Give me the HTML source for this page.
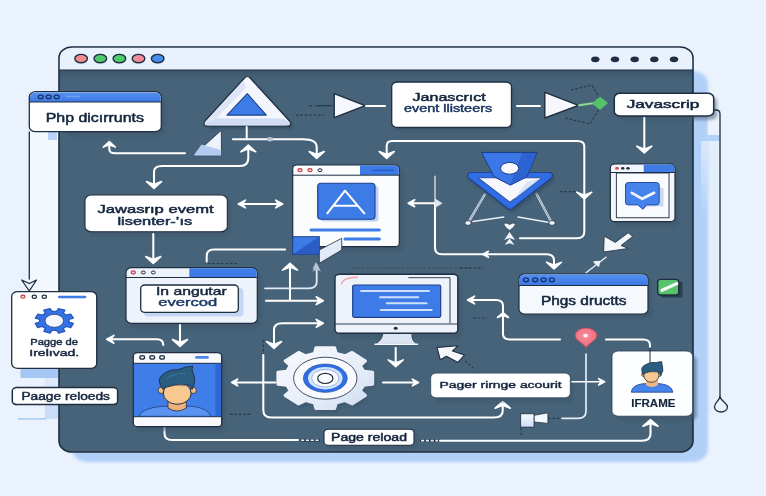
<!DOCTYPE html>
<html><head><meta charset="utf-8"><title>diagram</title>
<style>html,body{margin:0;padding:0;background:#e9f2fd;overflow:hidden}svg{display:block;filter:blur(.6px)}text{font-family:"Liberation Sans",sans-serif}</style></head>
<body><svg width="766" height="496" viewBox="0 0 766 496">
<defs><filter id="b1" x="-20%" y="-20%" width="140%" height="140%"><feGaussianBlur stdDeviation="1.6"/></filter>
<linearGradient id="gg" x1="0" y1="0" x2="1" y2="1"><stop offset="0" stop-color="#f7f9fe"/><stop offset=".55" stop-color="#e9eef9"/><stop offset="1" stop-color="#cfdcf2"/></linearGradient>
<linearGradient id="fg" x1="0" y1="0" x2="0" y2="1"><stop offset="0" stop-color="#fbfcff"/><stop offset="1" stop-color="#cddcf3"/></linearGradient>
<radialGradient id="pg" cx=".45" cy=".4" r=".7"><stop offset="0" stop-color="#f88f9c"/><stop offset="1" stop-color="#ee6477"/></radialGradient>
<linearGradient id="sg" x1="0" y1="0" x2="0" y2="1"><stop offset="0" stop-color="#dbe8fb"/><stop offset="1" stop-color="#dbe8fb" stop-opacity="0"/></linearGradient>
<filter id="b3" x="-5%" y="-5%" width="110%" height="110%"><feGaussianBlur stdDeviation="1.5"/></filter>
<linearGradient id="tb" x1="0" y1="0" x2="0" y2="1"><stop offset="0" stop-color="#5590f0"/><stop offset="1" stop-color="#3b78e4"/></linearGradient>
<linearGradient id="ts" x1="0" y1="0" x2="0" y2="1"><stop offset="0" stop-color="#33495e" stop-opacity=".55"/><stop offset="1" stop-color="#33495e" stop-opacity="0"/></linearGradient>
<filter id="b2" x="-5%" y="-5%" width="110%" height="110%"><feGaussianBlur stdDeviation="1.2"/></filter></defs>
<rect width="766" height="496" fill="#e9f2fd"/>
<rect x="29" y="132" width="30" height="160" fill="#f3f8fe"/>
<rect x="707" y="112" width="13" height="300" fill="#e4effc"/>
<rect x="72" y="71" width="636" height="391" rx="16" ry="13" fill="#b1d0f8" filter="url(#b3)"/>
<rect x="701" y="141" width="7.5" height="75" fill="url(#sg)"/>
<rect x="708" y="116" width="11.3" height="19" fill="#eaf2fd"/>
<rect x="706" y="135" width="13.3" height="6" fill="#b3d2f8"/>
<rect x="59" y="47" width="634" height="405" rx="13" ry="11" fill="#466379" stroke="#1f2e40" stroke-width="1.6"/>
<path d="M59.8,70 V58 A12.2,10.2 0 0 1 72,47.8 H680 A12.2,10.2 0 0 1 692.2,58 V70 Z" fill="#e9f1fc"/>
<rect x="60" y="70" width="632" height="9" fill="url(#ts)"/>
<path d="M59,70 H693" stroke="#1f2e40" stroke-width="1.2"/>
<ellipse cx="81.1" cy="58.6" rx="6.3" ry="4.2" fill="#f08c8c" stroke="#1f2e40" stroke-width="1.4"/>
<ellipse cx="100.3" cy="58.6" rx="6.3" ry="4.2" fill="#4fcb6b" stroke="#1f2e40" stroke-width="1.4"/>
<ellipse cx="119.4" cy="58.6" rx="6.3" ry="4.2" fill="#4fcb6b" stroke="#1f2e40" stroke-width="1.4"/>
<ellipse cx="138.5" cy="58.6" rx="6.3" ry="4.2" fill="#f08c9a" stroke="#1f2e40" stroke-width="1.4"/>
<ellipse cx="157.7" cy="58.6" rx="6.3" ry="4.2" fill="#478bee" stroke="#1f2e40" stroke-width="1.4"/>
<ellipse cx="595.3" cy="59.3" rx="4.2" ry="2.9" fill="#1f2e40" stroke="none" stroke-width="1"/>
<ellipse cx="615" cy="59.3" rx="4.2" ry="2.9" fill="#1f2e40" stroke="none" stroke-width="1"/>
<ellipse cx="634.7" cy="59.3" rx="4.2" ry="2.9" fill="#1f2e40" stroke="none" stroke-width="1"/>
<ellipse cx="654.3" cy="59.3" rx="4.2" ry="2.9" fill="#1f2e40" stroke="none" stroke-width="1"/>
<ellipse cx="674" cy="59.3" rx="4.2" ry="2.9" fill="#1f2e40" stroke="none" stroke-width="1"/>
<rect x="66" y="98" width="99" height="38" rx="6" ry="5" fill="#3c5268" opacity=".55" filter="url(#b1)"/>
<rect x="48" y="131" width="9" height="9" fill="#b9d3f7"/>
<rect x="29.3" y="91.7" width="132.0" height="40.0" rx="6.5" ry="5" fill="#ffffff" stroke="#1f2e40" stroke-width="1.3" />
<path d="M30,102 V97 A6,4.6 0 0 1 36,92.4 H154.6 A6,4.6 0 0 1 160.6,97 V102 Z" fill="url(#tb)"/>
<path d="M29.3,102 H161.3" stroke="#1f2e40" stroke-width="1"/>
<ellipse cx="40.7" cy="96.9" rx="2.5" ry="1.8" fill="#4f86e6" stroke="#16306e" stroke-width="1.3"/>
<ellipse cx="48.7" cy="96.9" rx="2.5" ry="1.8" fill="#4f86e6" stroke="#16306e" stroke-width="1.3"/>
<ellipse cx="56.7" cy="96.9" rx="2.5" ry="1.8" fill="#4f86e6" stroke="#16306e" stroke-width="1.3"/>
<path d="M66,96.5 H80" stroke="#6fa0f2" stroke-width="1.6"/>
<text x="45.7" y="121.5" font-size="12.5" font-weight="400" fill="#14253d" stroke="#14253d" stroke-width="0.5" stroke-linejoin="round" textLength="98.3" lengthAdjust="spacingAndGlyphs">Php dicırrunts</text>
<path d="M244.5,78 Q247.3,75 250.1,78 L289.5,121 Q292.5,126 287,126 L207.5,126 Q202,126 205,121 Z" transform="translate(2.5,2.5)" fill="#2f465c" opacity=".7" filter="url(#b1)"/>
<path d="M244.5,78 Q247.3,75 250.1,78 L289.5,121 Q292.5,126 287,126 L207.5,126 Q202,126 205,121 Z" fill="#f3f6fc" stroke="#1f2e40" stroke-width="1.2" stroke-linejoin="round"/>
<path d="M206,121.5 Q204,125.2 208,125.2 L286.5,125.2 Q290.5,125.2 288.7,121.8 L283,118.5 L212,118.5 Z" fill="#cfdcf4"/>
<path d="M243.5,80.5 L206,121.5 L213,121.5 L246,88 Z" fill="#dbe5f6"/>
<path d="M247.3,93.7 L266.3,115.1 L227,115.1 Z" fill="#3d7be6" stroke="#1d3f8c" stroke-width="1.1" stroke-linejoin="round"/>
<path d="M221.3,130.3 L221.5,155.7 L193.1,155.7 Z" fill="#eef2fa" stroke="#1f2e40" stroke-width=".8" stroke-linejoin="round"/>
<path d="M193.6,155.4 L221.2,155.4 L221.2,150 L201.5,144.5 Z" fill="#b3cbf1"/>
<path d="M334.2,93.6 L365.2,105.6 L334.2,117.6 Z" fill="#f6f8fd" stroke="#1f2e40" stroke-width="1.4" stroke-linejoin="round"/>
<path d="M316,105.7 H332" fill="none" stroke="#1f2e40" stroke-width="1.1" stroke-linecap="round" stroke-linejoin="round" />
<path d="M309,105.7 H314" fill="none" stroke="#1f2e40" stroke-width="1.2" stroke-dasharray="2.6 1.8" opacity=".75"/>
<path d="M296,115.2 H324" fill="none" stroke="#1f2e40" stroke-width="1.2" stroke-dasharray="2.6 1.8" opacity=".75"/>
<path d="M366,106 H385" fill="none" stroke="#ffffff" stroke-width="2" stroke-linecap="round" stroke-linejoin="round" />
<rect x="394" y="86" width="120" height="45" rx="6" ry="5" fill="#3c5268" opacity=".5" filter="url(#b1)"/>
<rect x="391.7" y="82" width="119.8" height="45.5" rx="5.9" ry="4.5" fill="#ffffff" stroke="#1f2e40" stroke-width="1.3" />
<text x="412.5" y="100.6" font-size="11.5" font-weight="400" fill="#14253d" stroke="#14253d" stroke-width="0.5" stroke-linejoin="round" textLength="73.3" lengthAdjust="spacingAndGlyphs">Janascrıct</text>
<text x="404" y="111.8" font-size="10.2" font-weight="400" fill="#16305f" stroke="#16305f" stroke-width="0.42" stroke-linejoin="round" textLength="88.2" lengthAdjust="spacingAndGlyphs">event llisteers</text>
<path d="M517,106 H540" fill="none" stroke="#ffffff" stroke-width="2" stroke-linecap="round" stroke-linejoin="round" />
<path d="M571,90 L592,85 L601,101" fill="none" stroke="#1f2e40" stroke-width="1.2" stroke-dasharray="2.6 1.8" opacity=".75"/>
<path d="M601,106 L590,124 L565,118" fill="none" stroke="#1f2e40" stroke-width="1.2" stroke-dasharray="2.6 1.8" opacity=".75"/>
<path d="M544.8,92.3 L578.5,105.3 L544.8,118 Z" fill="#f6f8fd" stroke="#1f2e40" stroke-width="1.4" stroke-linejoin="round"/>
<path d="M579,105.3 L598,102.5" fill="none" stroke="#8fd795" stroke-width="2" stroke-linecap="round" stroke-linejoin="round" />
<path d="M600,96.5 L608,103 L600,110 L592,103.5 Z" fill="#55c268"/>
<rect x="617" y="97" width="100" height="23" rx="6" ry="5" fill="#3c5268" opacity=".5" filter="url(#b1)"/>
<rect x="614.3" y="93.3" width="99.4" height="22.7" rx="5.9" ry="4.5" fill="#ffffff" stroke="#1f2e40" stroke-width="1.5" />
<text x="626.7" y="108.3" font-size="11" font-weight="400" fill="#14253d" stroke="#14253d" stroke-width="0.5" stroke-linejoin="round" textLength="72.6" lengthAdjust="spacingAndGlyphs">Javascrip</text>
<path d="M713.7,110 H716 Q720,110 720,114 V405" fill="none" stroke="#1f2e40" stroke-width="1.3" stroke-linecap="round" stroke-linejoin="round" />
<path d="M720,397 C 718,402 714.5,403 714.5,407 A6.5,5 0 0 0 727.5,407 C727.5,403 722,402 720,397 Z" fill="#e9f2fd" stroke="#1f2e40" stroke-width="1.3"/>
<path d="M644.3,118 V152" fill="none" stroke="#ffffff" stroke-width="2.05" stroke-linecap="round" stroke-linejoin="round" />
<polygon points="636.8,146.2 644.3,153.0 651.8,146.2 644.3,149.3" fill="#ffffff" stroke="#ffffff" stroke-width="1.6" stroke-linejoin="round"/>
<rect x="613" y="168" width="66" height="58" rx="5" ry="4" fill="#3c5268" opacity=".5" filter="url(#b1)"/>
<rect x="610.3" y="164" width="64.7" height="57.7" rx="5.2" ry="4" fill="#f2f5fc" stroke="#1f2e40" stroke-width="1.2" />
<path d="M643.7,164.6 H670 A4.4,3.4 0 0 1 674.4,168 V172.3 H643.7 Z" fill="#3d7be6"/>
<path d="M610.3,172.5 H675" stroke="#1f2e40" stroke-width="1"/>
<ellipse cx="617" cy="168.3" rx="1.9" ry="1.5" fill="#e5484d" stroke="none" stroke-width="1"/>
<ellipse cx="622.7" cy="168.3" rx="1.7" ry="1.4" fill="#1f2e40" stroke="none" stroke-width="1"/>
<ellipse cx="628" cy="168.3" rx="1.7" ry="1.4" fill="#1f2e40" stroke="none" stroke-width="1"/>
<rect x="616.4" y="173" width="52.6" height="44.7" fill="#fafcff" stroke="#1f2e40" stroke-width="1" opacity=".9"/>
<path d="M640,187.7 H663.5 V206.5 H640 Z" fill="#cbd8ef"/>
<path d="M628.5,182.5 H656.2 Q659.2,182.5 659.2,185 V202.5 Q659.2,204.9 656.2,204.9 H646.6 L643,209.3 L637.8,204.9 H628.5 Q625.5,204.9 625.5,202.5 V185 Q625.5,182.5 628.5,182.5 Z" fill="#4682ec" stroke="#244fa8" stroke-width="1"/>
<path d="M631.8,192.8 L642.3,198.8 L654.1,192.8" fill="none" stroke="#f2f6fe" stroke-width="2.7" stroke-linecap="round" stroke-linejoin="round" />
<path d="M628.2,232.8 L632.7,236.4 L621,245.5 L628.4,248.4 L603.7,252 L604.2,236.2 L615.4,242.4 Z" fill="#f4f7fc" stroke="#1f2e40" stroke-width=".8" stroke-linejoin="round"/>
<path d="M606,257.3 L586,272.7" fill="none" stroke="#e8eef8" stroke-width="1.4" stroke-linecap="round" stroke-linejoin="round" />
<path d="M594,262 L599.5,261.5 L598.5,266 Z" fill="#e8eef8" stroke="#e8eef8" stroke-width="1.6" stroke-linejoin="round"/>
<rect x="660.5" y="281.5" width="22" height="16" rx="2" fill="#1f2e40" opacity=".7"/>
<rect x="657.7" y="279.4" width="21" height="15.6" rx="3" ry="2.4" fill="#57c46d" stroke="#1f2e40" stroke-width="1.4"/>
<path d="M662,290.3 L676.8,283.6" fill="none" stroke="#f4f9f4" stroke-width="3.2" stroke-linecap="round" stroke-linejoin="round" />
<rect x="522" y="278" width="130" height="40" rx="6" ry="5" fill="#3c5268" opacity=".55" filter="url(#b1)"/>
<rect x="519" y="274" width="129.0" height="40.0" rx="5.9" ry="4.5" fill="#f5f8fd" stroke="#1f2e40" stroke-width="1.2" />
<path d="M519.7,285.3 V278.6 A5.2,4 0 0 1 525,274.6 H642 A5.2,4 0 0 1 647.3,278.6 V285.3 Z" fill="url(#tb)"/>
<path d="M519,285.5 H648" stroke="#1f2e40" stroke-width="1"/>
<ellipse cx="526" cy="279.8" rx="2.5" ry="1.9" fill="#4b86ea" stroke="#16306e" stroke-width="1.4"/>
<ellipse cx="535.2" cy="279.8" rx="2.5" ry="1.9" fill="#4b86ea" stroke="#16306e" stroke-width="1.4"/>
<ellipse cx="543.6" cy="279.8" rx="2.5" ry="1.9" fill="#4b86ea" stroke="#16306e" stroke-width="1.4"/>
<ellipse cx="551.9" cy="279.8" rx="2.5" ry="1.9" fill="#4b86ea" stroke="#16306e" stroke-width="1.4"/>
<text x="541" y="304.8" font-size="12" font-weight="400" fill="#14253d" stroke="#14253d" stroke-width="0.5" stroke-linejoin="round" textLength="85.5" lengthAdjust="spacingAndGlyphs">Phgs dructts</text>
<path d="M484.6,194.7 L468.1,222.9" fill="none" stroke="#e9eef7" stroke-width="2.2" stroke-linecap="round" stroke-linejoin="round" />
<path d="M484.6,194.7 L468.1,222.9" fill="none" stroke="#6b7f96" stroke-width="0.8" stroke-linecap="round" stroke-linejoin="round" />
<path d="M536.4,193.7 L551.9,222.9" fill="none" stroke="#e9eef7" stroke-width="2.2" stroke-linecap="round" stroke-linejoin="round" />
<path d="M536.4,193.7 L551.9,222.9" fill="none" stroke="#6b7f96" stroke-width="0.8" stroke-linecap="round" stroke-linejoin="round" />
<path d="M473,221.6 L503.7,216.9" fill="none" stroke="#e9eef7" stroke-width="1.5" stroke-linecap="round" stroke-linejoin="round" />
<path d="M548,222.2 L518,216.9" fill="none" stroke="#e9eef7" stroke-width="1.5" stroke-linecap="round" stroke-linejoin="round" />
<ellipse cx="468" cy="223" rx="3.2" ry="2.4" fill="#eef2f9" stroke="#1f2e40" stroke-width="0.8"/>
<ellipse cx="552" cy="223" rx="3.2" ry="2.4" fill="#eef2f9" stroke="#1f2e40" stroke-width="0.8"/>
<path d="M470.8,175.6 L549.2,175.6 L510,206 Z" transform="translate(2,3)" fill="#2f465c" stroke="#2f465c" stroke-width="7" stroke-linejoin="round" opacity=".6" filter="url(#b1)"/>
<path d="M470.8,175.6 L549.2,175.6 L510,206 Z" fill="#2f6adf" stroke="#1b3a85" stroke-width="7.4" stroke-linejoin="round"/>
<path d="M470.8,175.6 L549.2,175.6 L510,206 Z" fill="#2f6adf" stroke="#306ce2" stroke-width="5.6" stroke-linejoin="round"/>
<path d="M478.3,177.8 H541.3 L510,202.1 Z" fill="#f6f8fd" stroke="#1d3f8c" stroke-width=".8" stroke-linejoin="round"/>
<path d="M527,182 L541,178 L514,199 Z" fill="#d9e4f7"/>
<path d="M481.4,152.4 H537.1 L527,176.7 L510.4,185.2 L494.1,176.7 Z" fill="#3b77e6" stroke="#1b3a85" stroke-width="1" stroke-linejoin="round"/>
<path d="M522,152.9 H536.4 L526.6,176.4 L510.4,184.6 Z" fill="#2c62d2"/>
<ellipse cx="509.6" cy="168.3" rx="9.1" ry="5.9" fill="#f8fafe" stroke="#1b3a85" stroke-width="1"/>
<path d="M503.5,223.5 Q506.5,222 509.6,224.5 Q512.7,222 515.7,223.5 Q515,227 509.6,230.5 Q504,227 503.5,223.5 Z" fill="#f4f7fd" stroke="#1f2e40" stroke-width=".7"/>
<path d="M509.6,232 L515,240 L509.6,238 L504.2,240 Z M509.6,238.5 L514.5,245 L509.6,243.2 L504.7,245 Z" fill="#f4f7fd"/>
<path d="M386.7,157 V146 Q386.7,141 392,141 H577 Q584.3,141 584.3,146 V232 Q584.3,238.3 577,238.3 H520" fill="none" stroke="#ffffff" stroke-width="2.05" stroke-linecap="round" stroke-linejoin="round" />
<polygon points="379.2,151.6 386.7,158.3 394.2,151.6 386.7,154.6" fill="#ffffff" stroke="#ffffff" stroke-width="1.6" stroke-linejoin="round"/>
<polygon points="576.8,192.2 584.3,199.0 591.8,192.2 584.3,195.3" fill="#ffffff" stroke="#ffffff" stroke-width="1.6" stroke-linejoin="round"/>
<path d="M560,191.7 H577" fill="none" stroke="#1f2e40" stroke-width="1.2" stroke-dasharray="2.6 1.8" opacity=".75"/>
<path d="M435,176 V204" fill="none" stroke="#ffffff" stroke-width="1.1" stroke-linecap="round" stroke-linejoin="round" />
<path d="M435,204 V248 Q435,254.3 442,254.3 H546 Q554,254.3 554,260 V268" fill="none" stroke="#ffffff" stroke-width="2.05" stroke-linecap="round" stroke-linejoin="round" />
<polygon points="546.5,262.2 554.0,269.0 561.5,262.2 554.0,265.3" fill="#ffffff" stroke="#ffffff" stroke-width="1.6" stroke-linejoin="round"/>
<polygon points="488.4,251.3 482.8,254.3 488.4,257.3 485.9,254.3" fill="#ffffff" stroke="#ffffff" stroke-width="1.6" stroke-linejoin="round"/>
<path d="M435,203.2 H411" fill="none" stroke="#ffffff" stroke-width="2" stroke-linecap="round" stroke-linejoin="round" />
<polygon points="414.7,199.7 408.2,203.2 414.7,206.7 411.8,203.2" fill="#ffffff" stroke="#ffffff" stroke-width="1.6" stroke-linejoin="round"/>
<path d="M435,198.5 L442.5,203.2 L435,208 Z" fill="#dde5f0"/>
<path d="M246.7,127 V139.3" fill="none" stroke="#ffffff" stroke-width="2" stroke-linecap="round" stroke-linejoin="round" />
<path d="M233,139.3 H303 Q316.7,139.3 316.7,147 V157" fill="none" stroke="#ffffff" stroke-width="2.05" stroke-linecap="round" stroke-linejoin="round" />
<polygon points="309.2,151.6 316.7,158.3 324.2,151.6 316.7,154.6" fill="#ffffff" stroke="#ffffff" stroke-width="1.6" stroke-linejoin="round"/>
<ellipse cx="270" cy="139.3" rx="3" ry="2.2" fill="#b7c4d6" stroke="none" stroke-width="1"/>
<path d="M248.3,146.5 V158 Q248.3,166 240,166 H162 Q154,166 154,172 V187" fill="none" stroke="#ffffff" stroke-width="2.05" stroke-linecap="round" stroke-linejoin="round" />
<polygon points="240.8,151.8 248.3,145.0 255.8,151.8 248.3,148.7" fill="#ffffff" stroke="#ffffff" stroke-width="1.6" stroke-linejoin="round"/>
<polygon points="146.5,181.6 154.0,188.3 161.5,181.6 154.0,184.6" fill="#ffffff" stroke="#ffffff" stroke-width="1.6" stroke-linejoin="round"/>
<path d="M109.3,143 V149 Q109.3,153.3 115,153.3 H185" fill="none" stroke="#ffffff" stroke-width="2.05" stroke-linecap="round" stroke-linejoin="round" />
<polygon points="103.3,147.1 109.3,141.7 115.3,147.1 109.3,144.7" fill="#ffffff" stroke="#ffffff" stroke-width="1.6" stroke-linejoin="round"/>
<path d="M240,204 H281" fill="none" stroke="#ffffff" stroke-width="2.05" stroke-linecap="round" stroke-linejoin="round" />
<polygon points="245.5,200.1 238.3,204.0 245.5,207.9 242.2,204.0" fill="#ffffff" stroke="#ffffff" stroke-width="1.6" stroke-linejoin="round"/>
<polygon points="275.6,200.1 282.7,204.0 275.6,207.9 278.8,204.0" fill="#ffffff" stroke="#ffffff" stroke-width="1.6" stroke-linejoin="round"/>
<rect x="88" y="199" width="143" height="37" rx="7" ry="6" fill="#3c5268" opacity=".5" filter="url(#b1)"/>
<rect x="85" y="195" width="142.3" height="36.7" rx="6.5" ry="5" fill="#ffffff" stroke="#1f2e40" stroke-width="1.1" />
<text x="97.5" y="213.4" font-size="11.4" font-weight="400" fill="#14253d" stroke="#14253d" stroke-width="0.5" stroke-linejoin="round" textLength="116.1" lengthAdjust="spacingAndGlyphs">Jawasrıp evemt</text>
<text x="117.4" y="224.8" font-size="11.3" font-weight="400" fill="#172b4a" stroke="#172b4a" stroke-width="0.5" stroke-linejoin="round" textLength="74.9" lengthAdjust="spacingAndGlyphs">lisenter-ʼıs</text>
<path d="M153.3,234 V262" fill="none" stroke="#ffffff" stroke-width="2.05" stroke-linecap="round" stroke-linejoin="round" />
<polygon points="145.8,256.6 153.3,263.3 160.8,256.6 153.3,259.6" fill="#ffffff" stroke="#ffffff" stroke-width="1.6" stroke-linejoin="round"/>
<rect x="296" y="169" width="107" height="82" rx="5" ry="4" fill="#3c5268" opacity=".5" filter="url(#b1)"/>
<rect x="292.7" y="165" width="106.6" height="81.7" rx="4.5" ry="3.5" fill="#fbfcfe" stroke="#1f2e40" stroke-width="1.2" />
<path d="M360,165.6 H394.5 A4.2,3.2 0 0 1 398.7,168.8 V175 H360 Z" fill="#3d7be6"/>
<path d="M292.7,175.2 H399.3" stroke="#1f2e40" stroke-width="1"/>
<path d="M373.3,170.3 H393.3" fill="none" stroke="#2a5fcf" stroke-width="1.8" stroke-linecap="round" stroke-linejoin="round" />
<ellipse cx="300" cy="170.2" rx="2.1" ry="1.6" fill="#f4d2d6" stroke="#c8323f" stroke-width="1.1"/>
<ellipse cx="310" cy="170.2" rx="2.1" ry="1.6" fill="#f4d2d6" stroke="#c8323f" stroke-width="1.1"/>
<ellipse cx="320" cy="170.2" rx="2" ry="1.5" fill="#e8ecf3" stroke="#1f2e40" stroke-width="1"/>
<rect x="321" y="186" width="57.5" height="35.5" rx="3" fill="#bfd2f4"/>
<rect x="317.7" y="183.3" width="57.3" height="36" rx="3.5" ry="3" fill="#3d7be6" stroke="#1d3f8c" stroke-width="1.1"/>
<path d="M327.3,213.3 L345,190.7 L364.3,213.3 M333.8,205.7 H358" fill="none" stroke="#ffffff" stroke-width="2" stroke-linecap="round" stroke-linejoin="round" />
<path d="M311,230 H379.3" fill="none" stroke="#3d7be6" stroke-width="3" stroke-linecap="round" stroke-linejoin="round" />
<path d="M345,239 H379.3" fill="none" stroke="#3d7be6" stroke-width="3" stroke-linecap="round" stroke-linejoin="round" />
<rect x="292.7" y="236.7" width="26.6" height="17.6" fill="#3d7be6" stroke="#1d3f8c" stroke-width="1"/>
<path d="M292.7,254.3 L319.3,236.7 V254.3 Z" fill="#2a5cc4"/>
<path d="M319.3,250 L341.7,238.3 V250 L319.3,263.3 Z" fill="#e4ebf8" stroke="#1f2e40" stroke-width=".8" stroke-linejoin="round"/>
<path d="M316,262 L319.5,269 L316,267.5 L312.5,269 Z" fill="#b7c4d6"/>
<rect x="129" y="272" width="132" height="56" rx="6" ry="5" fill="#3c5268" opacity=".55" filter="url(#b1)"/>
<rect x="126" y="267.7" width="131.3" height="55.6" rx="5.9" ry="4.5" fill="#eef3fb" stroke="#1f2e40" stroke-width="1.2" />
<path d="M189.3,268.3 H252 A4.7,3.7 0 0 1 256.7,272 V277.3 H189.3 Z" fill="#3d7be6"/>
<path d="M126,277.5 H257.3" stroke="#1f2e40" stroke-width="1"/>
<ellipse cx="133.3" cy="272.5" rx="2.1" ry="1.6" fill="#f4d2d6" stroke="#c8323f" stroke-width="1.1"/>
<ellipse cx="143.3" cy="272.5" rx="2" ry="1.5" fill="#e8ecf3" stroke="#1f2e40" stroke-width="1"/>
<ellipse cx="153.3" cy="272.5" rx="2" ry="1.5" fill="#e8ecf3" stroke="#1f2e40" stroke-width="1"/>
<rect x="144" y="288" width="99.5" height="28.5" rx="4" fill="#c3d6f6"/>
<rect x="140.7" y="285" width="97.6" height="27.3" rx="4.2" ry="3.2" fill="#ffffff" stroke="#1f2e40" stroke-width="1.3" />
<text x="156" y="295.3" font-size="10.5" font-weight="400" fill="#14253d" stroke="#14253d" stroke-width="0.42" stroke-linejoin="round" textLength="70.7" lengthAdjust="spacingAndGlyphs">In angutar</text>
<text x="158.3" y="306.3" font-size="10.5" font-weight="400" fill="#1c3a66" stroke="#1c3a66" stroke-width="0.42" stroke-linejoin="round" textLength="59.0" lengthAdjust="spacingAndGlyphs">evercod</text>
<path d="M206.7,261.5 V256 Q206.7,249.5 214,249.5 H285" fill="none" stroke="#ffffff" stroke-width="2.05" stroke-linecap="round" stroke-linejoin="round" />
<path d="M208,263.5 H237" fill="none" stroke="#1f2e40" stroke-width="1.2" stroke-dasharray="2.6 1.8" opacity=".75"/>
<path d="M180,325 V345" fill="none" stroke="#ffffff" stroke-width="2.05" stroke-linecap="round" stroke-linejoin="round" />
<polygon points="172.5,339.6 180.0,346.3 187.5,339.6 180.0,342.6" fill="#ffffff" stroke="#ffffff" stroke-width="1.6" stroke-linejoin="round"/>
<path d="M108,339.3 H157 Q163.3,339.3 163.3,345" fill="none" stroke="#ffffff" stroke-width="2.05" stroke-linecap="round" stroke-linejoin="round" />
<polygon points="113.9,335.4 106.7,339.3 113.9,343.2 110.6,339.3" fill="#ffffff" stroke="#ffffff" stroke-width="1.6" stroke-linejoin="round"/>
<path d="M290,300 V265" fill="none" stroke="#ffffff" stroke-width="2.05" stroke-linecap="round" stroke-linejoin="round" />
<polygon points="282.5,270.1 290.0,263.3 297.5,270.1 290.0,267.0" fill="#ffffff" stroke="#ffffff" stroke-width="1.6" stroke-linejoin="round"/>
<path d="M265,288.3 H309 Q316.7,288.3 316.7,282 V270" fill="none" stroke="#e4eaf4" stroke-width="1.8" stroke-linecap="round" stroke-linejoin="round" />
<path d="M316.7,263.5 L321,271.5 L316.7,269.5 L312.4,271.5 Z" fill="#b7c4d6"/>
<path d="M266,300.7 H322" fill="none" stroke="#ffffff" stroke-width="2.05" stroke-linecap="round" stroke-linejoin="round" />
<polygon points="316.2,296.8 323.3,300.7 316.2,304.6 319.4,300.7" fill="#ffffff" stroke="#ffffff" stroke-width="1.6" stroke-linejoin="round"/>
<path d="M322,323.3 H282 Q274,323.3 274,330 V347" fill="none" stroke="#ffffff" stroke-width="2.05" stroke-linecap="round" stroke-linejoin="round" />
<polygon points="316.2,319.4 323.3,323.3 316.2,327.2 319.4,323.3" fill="#ffffff" stroke="#ffffff" stroke-width="1.6" stroke-linejoin="round"/>
<polygon points="266.5,341.6 274.0,348.3 281.5,341.6 274.0,344.6" fill="#ffffff" stroke="#ffffff" stroke-width="1.6" stroke-linejoin="round"/>
<rect x="340" y="278" width="122" height="60" rx="5" ry="4" fill="#3c5268" opacity=".5" filter="url(#b1)"/>
<path d="M383,333 Q382,341 374.5,344.3 H417.5 Q411,341 412,333 Z" fill="#dbe4f3" stroke="#1f2e40" stroke-width=".8" stroke-linejoin="round"/>
<path d="M375,344.2 H417.5" fill="none" stroke="#f4f7fc" stroke-width="1.6" stroke-linecap="round" stroke-linejoin="round" />
<rect x="335" y="274.2" width="122.8" height="59.0" rx="4.5" ry="3.5" fill="#eef3fb" stroke="#1f2e40" stroke-width="1.4" />
<path d="M335,324 H457.8" stroke="#2b3e52" stroke-width="1"/>
<path d="M353,268.2 H472" fill="none" stroke="#1f2e40" stroke-width="1.1" stroke-dasharray="2.6 1.8" opacity=".4"/>
<path d="M408.3,277.7 H450 V323.3" fill="none" stroke="#1f2e40" stroke-width=".9"/>
<path d="M341.5,284.5 Q342,277.5 358,277.3" fill="none" stroke="#f4a3ad" stroke-width="1.4"/>
<rect x="352.7" y="285" width="88" height="32.3" rx="1.5" fill="#3d7be6" stroke="#1d3f8c" stroke-width="1.2"/>
<path d="M361,291 H429" fill="none" stroke="#cfe0fc" stroke-width="1.9" stroke-linecap="round" stroke-linejoin="round" />
<path d="M380,297.3 H418.3" fill="none" stroke="#cfe0fc" stroke-width="1.9" stroke-linecap="round" stroke-linejoin="round" />
<path d="M386.7,303.3 H426.7" fill="none" stroke="#cfe0fc" stroke-width="1.9" stroke-linecap="round" stroke-linejoin="round" />
<path d="M380.7,310 H431.7" fill="none" stroke="#cfe0fc" stroke-width="1.9" stroke-linecap="round" stroke-linejoin="round" />
<ellipse cx="395.7" cy="328.3" rx="2" ry="1.5" fill="#1f2e40" stroke="none" stroke-width="1"/>
<path d="M395.7,348 V365" fill="none" stroke="#ffffff" stroke-width="2.05" stroke-linecap="round" stroke-linejoin="round" />
<polygon points="388.2,359.9 395.7,366.7 403.2,359.9 395.7,363.0" fill="#ffffff" stroke="#ffffff" stroke-width="1.6" stroke-linejoin="round"/>
<path d="M460,267.8 H483" fill="none" stroke="#1f2e40" stroke-width="1.2" stroke-dasharray="2.6 1.8" opacity=".75"/>
<path d="M473,318 H487" fill="none" stroke="#1f2e40" stroke-width="1.2" stroke-dasharray="2.6 1.8" opacity=".75"/>
<path d="M469,300 H496 Q503,300 503,306 V334 Q503,339.5 510,339.5 H560" fill="none" stroke="#ffffff" stroke-width="2.05" stroke-linecap="round" stroke-linejoin="round" />
<polygon points="474.6,296.1 467.5,300.0 474.6,303.9 471.4,300.0" fill="#ffffff" stroke="#ffffff" stroke-width="1.6" stroke-linejoin="round"/>
<polygon points="497.5,317.4 503.0,312.5 508.5,317.4 503.0,315.2" fill="#ffffff" stroke="#ffffff" stroke-width="1.6" stroke-linejoin="round"/>
<path d="M437,347.4 L458,345.8 L452.5,350.9 L464.4,355.1 L458,362.4 L446.5,356.2 L440.3,359.8 Z" fill="#f6f8fd" stroke="#1f2e40" stroke-width="1.1" stroke-linejoin="round"/>
<path d="M465,361 L473,368" fill="none" stroke="#1f2e40" stroke-width="1.2" stroke-dasharray="2.6 1.8" opacity=".75"/>
<path d="M314.4,353.4 L315.9,347.8 L334.7,347.8 L336.2,353.4 L344.9,355.8 L352.1,352.4 L365.5,361.0 L360.3,365.6 L363.9,371.2 L372.7,372.2 L372.7,384.2 L363.9,385.2 L360.3,390.8 L365.5,395.4 L352.1,404.0 L344.9,400.6 L336.2,403.0 L334.7,408.6 L315.9,408.6 L314.4,403.0 L305.7,400.6 L298.5,404.0 L285.1,395.4 L290.3,390.8 L286.7,385.2 L277.9,384.2 L277.9,372.2 L286.7,371.2 L290.3,365.6 L285.1,361.0 L298.5,352.4 L305.7,355.8 Z" transform="translate(3,4)" fill="#3a5268" opacity=".6" filter="url(#b1)"/>
<path d="M314.4,353.4 L315.9,347.8 L334.7,347.8 L336.2,353.4 L344.9,355.8 L352.1,352.4 L365.5,361.0 L360.3,365.6 L363.9,371.2 L372.7,372.2 L372.7,384.2 L363.9,385.2 L360.3,390.8 L365.5,395.4 L352.1,404.0 L344.9,400.6 L336.2,403.0 L334.7,408.6 L315.9,408.6 L314.4,403.0 L305.7,400.6 L298.5,404.0 L285.1,395.4 L290.3,390.8 L286.7,385.2 L277.9,384.2 L277.9,372.2 L286.7,371.2 L290.3,365.6 L285.1,361.0 L298.5,352.4 L305.7,355.8 Z" fill="url(#gg)" stroke="url(#gg)" stroke-width="3" stroke-linejoin="round"/>
<ellipse cx="325.3" cy="378.2" rx="31.7" ry="21" fill="#f8fafe" stroke="#2b3e52" stroke-width="0.9"/>
<ellipse cx="325.3" cy="378.2" rx="22" ry="14.2" fill="#2f6de2" stroke="#1d3f8c" stroke-width="0.5"/>
<ellipse cx="325.3" cy="378.2" rx="17.3" ry="11.2" fill="#d6e4fb" stroke="none" stroke-width="1"/>
<ellipse cx="325.3" cy="378.2" rx="13.6" ry="8.8" fill="#fbfcff" stroke="#5f8fe8" stroke-width="0.6"/>
<ellipse cx="325.3" cy="378.4" rx="7.6" ry="5.1" fill="#fbfcff" stroke="#1f2e40" stroke-width="1.2"/>
<path d="M233,382.4 H275.5" fill="none" stroke="#ffffff" stroke-width="2.05" stroke-linecap="round" stroke-linejoin="round" />
<polygon points="237.7,379.0 231.5,382.4 237.7,385.8 234.9,382.4" fill="#ffffff" stroke="#ffffff" stroke-width="1.6" stroke-linejoin="round"/>
<path d="M383,382.5 H416" fill="none" stroke="#ffffff" stroke-width="2.05" stroke-linecap="round" stroke-linejoin="round" />
<polygon points="412.3,379.1 418.5,382.5 412.3,385.9 415.1,382.5" fill="#ffffff" stroke="#ffffff" stroke-width="1.6" stroke-linejoin="round"/>
<path d="M263.3,355 V410 Q263.3,417.5 271,417.5 H494 Q502.7,417.5 502.7,411 V403" fill="none" stroke="#ffffff" stroke-width="2.05" stroke-linecap="round" stroke-linejoin="round" />
<polygon points="495.2,408.2 502.7,401.5 510.2,408.2 502.7,405.2" fill="#ffffff" stroke="#ffffff" stroke-width="1.6" stroke-linejoin="round"/>
<path d="M263.3,340 V354" fill="none" stroke="#1f2e40" stroke-width="1.2" stroke-dasharray="2.6 1.8" opacity=".75"/>
<rect x="435" y="377" width="138" height="25" rx="6" ry="5" fill="#3c5268" opacity=".55" filter="url(#b1)"/>
<rect x="430.7" y="373.1" width="139.6" height="24.7" rx="5.9" ry="4.5" fill="#ffffff" stroke="#31465c" stroke-width="0.8" />
<text x="439.6" y="388.4" font-size="9.6" font-weight="400" fill="#14253d" stroke="#14253d" stroke-width="0.42" stroke-linejoin="round" textLength="122.0" lengthAdjust="spacingAndGlyphs">Pager rirnge acourit</text>
<path d="M572,381.8 H601" fill="none" stroke="#ffffff" stroke-width="1.6" stroke-linecap="round" stroke-linejoin="round" />
<polygon points="598.6,378.6 604.6,381.8 598.6,385.0 601.3,381.8" fill="#ffffff" stroke="#ffffff" stroke-width="1.6" stroke-linejoin="round"/>
<path d="M606,339.5 H643 Q650,339.5 650,345 V347" fill="none" stroke="#ffffff" stroke-width="2.05" stroke-linecap="round" stroke-linejoin="round" />
<path d="M586,347.4 C 582,342 575.2,340.5 575.2,335.4 A10.8,7.4 0 0 1 596.8,335.4 C596.8,340.5 590,342 586,347.4 Z" fill="url(#pg)" stroke="#c04a5e" stroke-width=".8"/>
<ellipse cx="585.6" cy="335.6" rx="2.3" ry="1.9" fill="#fdf3f5" stroke="none" stroke-width="1"/>
<path d="M586,354 V411 Q586,418.3 578,418.3 H562" fill="none" stroke="#e6ecf5" stroke-width="1.7" stroke-linecap="round" stroke-linejoin="round" />
<path d="M548,418.3 H561" fill="none" stroke="#1f2e40" stroke-width="1.2" stroke-dasharray="2.6 1.8" opacity=".75"/>
<path d="M534,415.3 L547.9,412.8 V423.4 L534,422 Z" fill="#f4f7fc" stroke="#1f2e40" stroke-width=".8" stroke-linejoin="round"/>
<rect x="520.7" y="413.8" width="13.3" height="13.3" fill="url(#fg)" stroke="#1f2e40" stroke-width=".8"/>
<path d="M521,428 V436" fill="none" stroke="#1f2e40" stroke-width="1.2" stroke-dasharray="2.6 1.8" opacity=".75"/>
<rect x="615" y="355" width="82" height="66" rx="7" ry="6" fill="#3c5268" opacity=".5" filter="url(#b1)"/>
<rect x="612" y="351" width="80.6" height="65.2" rx="6.5" ry="5" fill="#fdfeff" stroke="#2b3e52" stroke-width="0.8" />
<path d="M650,348 V362.5" fill="none" stroke="#1f2e40" stroke-width="1" stroke-linecap="round" stroke-linejoin="round" />
<path d="M631.3,392.2 Q632,385 643,383.7 H660 Q672,385 672.8,392.2 Z" fill="#4584ec" stroke="#1d3f8c" stroke-width=".8"/>
<path d="M646,380 H658 V385 Q652,389 646,385 Z" fill="#f0b583"/>
<ellipse cx="643.2" cy="374.5" rx="1.6" ry="2" fill="#f3bd86" stroke="#1f2e40" stroke-width="0.6"/>
<ellipse cx="659.8" cy="374.5" rx="1.6" ry="2" fill="#f3bd86" stroke="#1f2e40" stroke-width="0.6"/>
<ellipse cx="651.4" cy="375.3" rx="7.6" ry="7" fill="#f8c891" stroke="#1f2e40" stroke-width="0.8"/>
<path d="M643.3,375 Q639.3,367.5 645,365 Q650,361.3 656,362.6 Q659,361.4 662,361.8 Q661.5,364 662.5,366 Q664.2,370.5 660.6,375.5 Q660,371.8 656.5,371.8 Q650,370.8 644.8,373.2 Z" fill="#2a5d80" stroke="#1f2e40" stroke-width=".7" stroke-linejoin="round"/>
<text x="631.3" y="406.6" font-size="10.3" font-weight="700" fill="#14253d" stroke="#14253d" stroke-width="0.15" stroke-linejoin="round" textLength="44.1" lengthAdjust="spacingAndGlyphs">IFRAME</text>
<path d="M440,440.7 H642 Q650.5,440.7 650.5,434 V421" fill="none" stroke="#ffffff" stroke-width="2.05" stroke-linecap="round" stroke-linejoin="round" />
<polygon points="643.0,426.2 650.5,419.5 658.0,426.2 650.5,423.2" fill="#ffffff" stroke="#ffffff" stroke-width="1.6" stroke-linejoin="round"/>
<path d="M421,440.6 H438" fill="none" stroke="#1f2e40" stroke-width="2.2" stroke-linecap="round" stroke-linejoin="round" />
<path d="M421,440.6 H438" fill="none" stroke="#e8eef7" stroke-width="1.6"  stroke-linejoin="round" stroke-dasharray="3.2 1.6" stroke-linecap="butt"/>
<rect x="327" y="433" width="90" height="16" rx="5" ry="4" fill="#3c5268" opacity=".5" filter="url(#b1)"/>
<rect x="324" y="429.2" width="90.0" height="16.0" rx="4.5" ry="3.5" fill="#ffffff" stroke="#1f2e40" stroke-width="1.1" />
<text x="331" y="441" font-size="11.3" font-weight="400" fill="#14253d" stroke="#14253d" stroke-width="0.5" stroke-linejoin="round" textLength="76.0" lengthAdjust="spacingAndGlyphs">Page reload</text>
<path d="M164.5,428 V433.5 Q164.5,440 172,440 H298" fill="none" stroke="#ffffff" stroke-width="2.05" stroke-linecap="round" stroke-linejoin="round" />
<path d="M230,414.3 H251" fill="none" stroke="#1f2e40" stroke-width="1.2" stroke-dasharray="2.6 1.8" opacity=".75"/>
<path d="M301,440.3 H319" fill="none" stroke="#1f2e40" stroke-width="2.2" stroke-linecap="round" stroke-linejoin="round" />
<path d="M301,440.3 H319" fill="none" stroke="#e8eef7" stroke-width="1.6"  stroke-linejoin="round" stroke-dasharray="3.2 1.6" stroke-linecap="butt"/>
<rect x="137" y="357" width="88" height="74" rx="5" ry="4" fill="#3c5268" opacity=".5" filter="url(#b1)"/>
<rect x="133.3" y="352.7" width="88.4" height="74.0" rx="4.5" ry="3.5" fill="#f7f9fd" stroke="#1f2e40" stroke-width="1.3" />
<rect x="134" y="363.3" width="87" height="53.4" fill="#3f7de8"/>
<path d="M133.3,363.3 H221.7 M133.3,416.7 H221.7" stroke="#1f2e40" stroke-width="1"/>
<ellipse cx="142.2" cy="357.4" rx="2.4" ry="1.8" fill="#f7f9fd" stroke="#1f2e40" stroke-width="1.3"/>
<ellipse cx="152.2" cy="357.4" rx="2.4" ry="1.8" fill="#f7f9fd" stroke="#1f2e40" stroke-width="1.3"/>
<ellipse cx="162.1" cy="357.4" rx="2.4" ry="1.8" fill="#f7f9fd" stroke="#1f2e40" stroke-width="1.3"/>
<path d="M196.5,357.4 H207.5" fill="none" stroke="#4a86ee" stroke-width="2.7" stroke-linecap="round" stroke-linejoin="round" />
<rect x="215.5" y="363.8" width="5.5" height="52.4" fill="#2f66d6"/>
<path d="M138.8,416.3 Q142,408 162,406.3 H192 Q208,408 210.9,416.3 Z" fill="#5a93f0" stroke="#1d3f8c" stroke-width=".8"/>
<path d="M168,400 H186.3 V408 Q177.2,414 168,408 Z" fill="#efb07c" stroke="#1f2e40" stroke-width=".8"/>
<ellipse cx="161.3" cy="390.3" rx="3.2" ry="3.2" fill="#f3bd86" stroke="#1f2e40" stroke-width="0.8"/>
<ellipse cx="193.2" cy="390.3" rx="3.2" ry="3.2" fill="#f3bd86" stroke="#1f2e40" stroke-width="0.8"/>
<ellipse cx="177.2" cy="393.2" rx="13.9" ry="11.1" fill="#f8c891" stroke="#1f2e40" stroke-width="1"/>
<path d="M163,389.5 Q155.5,379 163,374.5 Q169,369 178,369.8 Q186,366 192.8,366.2 Q191.5,369.5 192.5,372 Q197,380 192,389.5 Q191,384.5 186.5,385 Q176,383.5 165,387.5 Z" fill="#2a5d80" stroke="#1f2e40" stroke-width=".9" stroke-linejoin="round"/>
<path d="M166,379 Q174,373.5 186,373" fill="none" stroke="#3d7397" stroke-width="1.2"/>
<path d="M29.3,132 V279" fill="none" stroke="#1f2e40" stroke-width="1.3" stroke-linecap="round" stroke-linejoin="round" />
<path d="M21.7,280 L29.3,291 L36.5,280 L29.3,283.5 Z" fill="#e9f2fd" stroke="#1f2e40" stroke-width="1.3" stroke-linejoin="round"/>
<rect x="20.5" y="366" width="37.5" height="12" fill="#a3c6f5"/>
<rect x="45" y="378" width="13" height="9" fill="#dce8fb"/>
<rect x="11.7" y="291.7" width="85.0" height="76.6" rx="5.9" ry="4.5" fill="#ffffff" stroke="#1f2e40" stroke-width="1.3" />
<ellipse cx="22.9" cy="296.7" rx="2.1" ry="1.6" fill="#f4d2d6" stroke="#c8323f" stroke-width="1.1"/>
<ellipse cx="34.3" cy="296.7" rx="2.1" ry="1.6" fill="#ffffff" stroke="#1f2e40" stroke-width="1.2"/>
<ellipse cx="44.3" cy="296.7" rx="2.1" ry="1.6" fill="#ffffff" stroke="#1f2e40" stroke-width="1.2"/>
<path d="M59.3,297 H85" fill="none" stroke="#3d7be6" stroke-width="2.6" stroke-linecap="round" stroke-linejoin="round" />
<path d="M56.5,311.4 L58.5,308.6 L64.8,310.3 L63.1,313.2 L66.2,315.2 L70.7,314.1 L73.3,318.1 L69.0,319.4 L69.0,322.2 L73.3,323.5 L70.7,327.5 L66.2,326.4 L63.1,328.4 L64.8,331.3 L58.5,333.0 L56.5,330.2 L52.1,330.2 L50.1,333.0 L43.8,331.3 L45.5,328.4 L42.4,326.4 L37.9,327.5 L35.3,323.5 L39.6,322.2 L39.6,319.4 L35.3,318.1 L37.9,314.1 L42.4,315.2 L45.5,313.2 L43.8,310.3 L50.1,308.6 L52.1,311.4 Z" fill="#3572e4" stroke="#2a5cc4" stroke-width="1.4" stroke-linejoin="round"/>
<ellipse cx="54.3" cy="320.8" rx="9.3" ry="6.5" fill="#f4f7fd" stroke="#1d3f8c" stroke-width="0.8"/>
<text x="30.2" y="345.2" font-size="9.6" font-weight="400" fill="#14253d" stroke="#14253d" stroke-width="0.42" stroke-linejoin="round" textLength="47.8" lengthAdjust="spacingAndGlyphs">Pagge de</text>
<text x="29.3" y="356" font-size="9.4" font-weight="400" fill="#14253d" stroke="#14253d" stroke-width="0.42" stroke-linejoin="round" textLength="49.9" lengthAdjust="spacingAndGlyphs">Irelıvad.</text>
<rect x="45" y="404" width="13" height="15" fill="#c9dcf8"/>
<rect x="18" y="418" width="28" height="1.8" fill="#b4d0f6"/>
<rect x="12.3" y="387.6" width="105.3" height="17.0" rx="4.5" ry="3.5" fill="#ffffff" stroke="#1f2e40" stroke-width="1.5" />
<text x="21.4" y="399.7" font-size="10" font-weight="400" fill="#14253d" stroke="#14253d" stroke-width="0.42" stroke-linejoin="round" textLength="88.6" lengthAdjust="spacingAndGlyphs">Paage reloeds</text>
</svg></body></html>
